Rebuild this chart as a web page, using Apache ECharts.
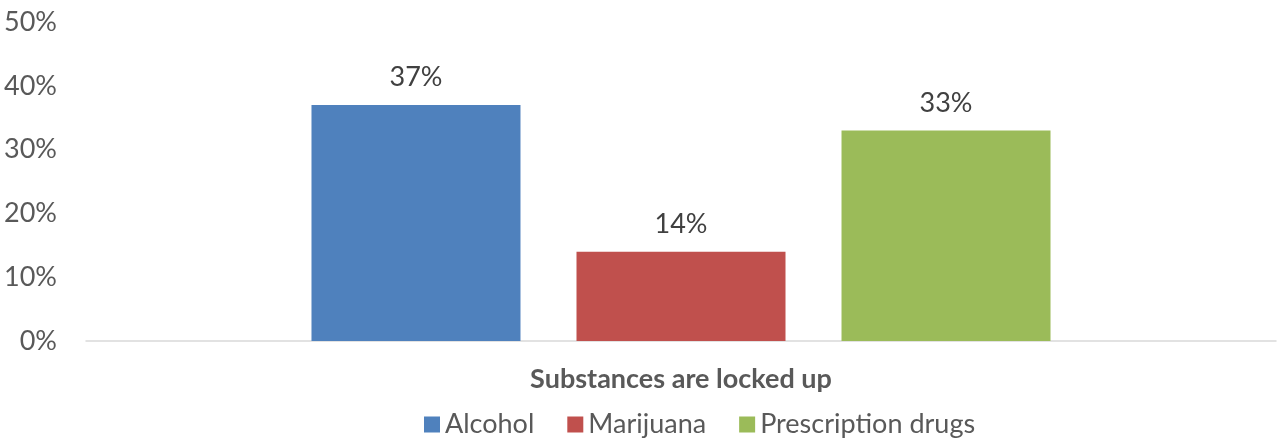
<!DOCTYPE html>
<html>
<head>
<meta charset="utf-8">
<style>
  html, body { margin: 0; padding: 0; background: #ffffff; }
  #chart { width: 1277px; height: 440px; }
</style>
<script src="https://cdn.jsdelivr.net/npm/echarts@6/dist/echarts.min.js"></script>
</head>
<body>
<div id="chart"></div>
<script>
// Share of households where each substance is locked up
const categories = ['Substances are locked up'];
const seriesNames = ['Alcohol', 'Marijuana', 'Prescription drugs'];
const alcohol = [37];
const marijuana = [14];
const prescriptionDrugs = [33];
const yTicks = [0, 10, 20, 30, 40, 50];

const colors = ['#4F81BD', '#C0504D', '#9BBB59'];
const FONT = 'Lato, "Open Sans", sans-serif';

const values = [alcohol, marijuana, prescriptionDrugs];

const chart = echarts.init(document.getElementById('chart'), null, { renderer: 'canvas' });

chart.setOption({
  animation: false,
  color: colors,
  grid: { left: 86, right: 1, top: 22, bottom: 99, containLabel: false },
  legend: {
    data: seriesNames,
    top: 411,
    left: 424,
    padding: 0,
    icon: 'rect',
    itemWidth: 16,
    itemHeight: 16,
    itemGap: 33,
    textStyle: { color: '#595959', fontSize: 27, fontFamily: FONT }
  },
  xAxis: {
    type: 'category',
    data: categories,
    axisLine: { show: true, lineStyle: { color: '#D9D9D9', width: 1.5 } },
    axisTick: { show: false },
    axisLabel: {
      color: '#595959', fontSize: 27, fontWeight: 'bold', fontFamily: FONT, margin: 25
    }
  },
  yAxis: {
    type: 'value',
    min: yTicks[0],
    max: yTicks[yTicks.length - 1],
    interval: 10,
    axisLine: { show: false },
    axisTick: { show: false },
    splitLine: { show: false },
    axisLabel: {
      color: '#595959', fontSize: 27, fontFamily: FONT, margin: 29,
      formatter: v => v + '%'
    }
  },
  series: seriesNames.map((name, i) => ({
    name,
    type: 'bar',
    data: values[i],
    barWidth: 209,
    barGap: '26.8%',
    itemStyle: { color: colors[i] },
    label: {
      show: true,
      position: 'top',
      distance: 14,
      color: '#404040',
      fontSize: 27,
      fontFamily: FONT,
      formatter: p => p.value + '%'
    }
  }))
});
</script>
</body>
</html>
